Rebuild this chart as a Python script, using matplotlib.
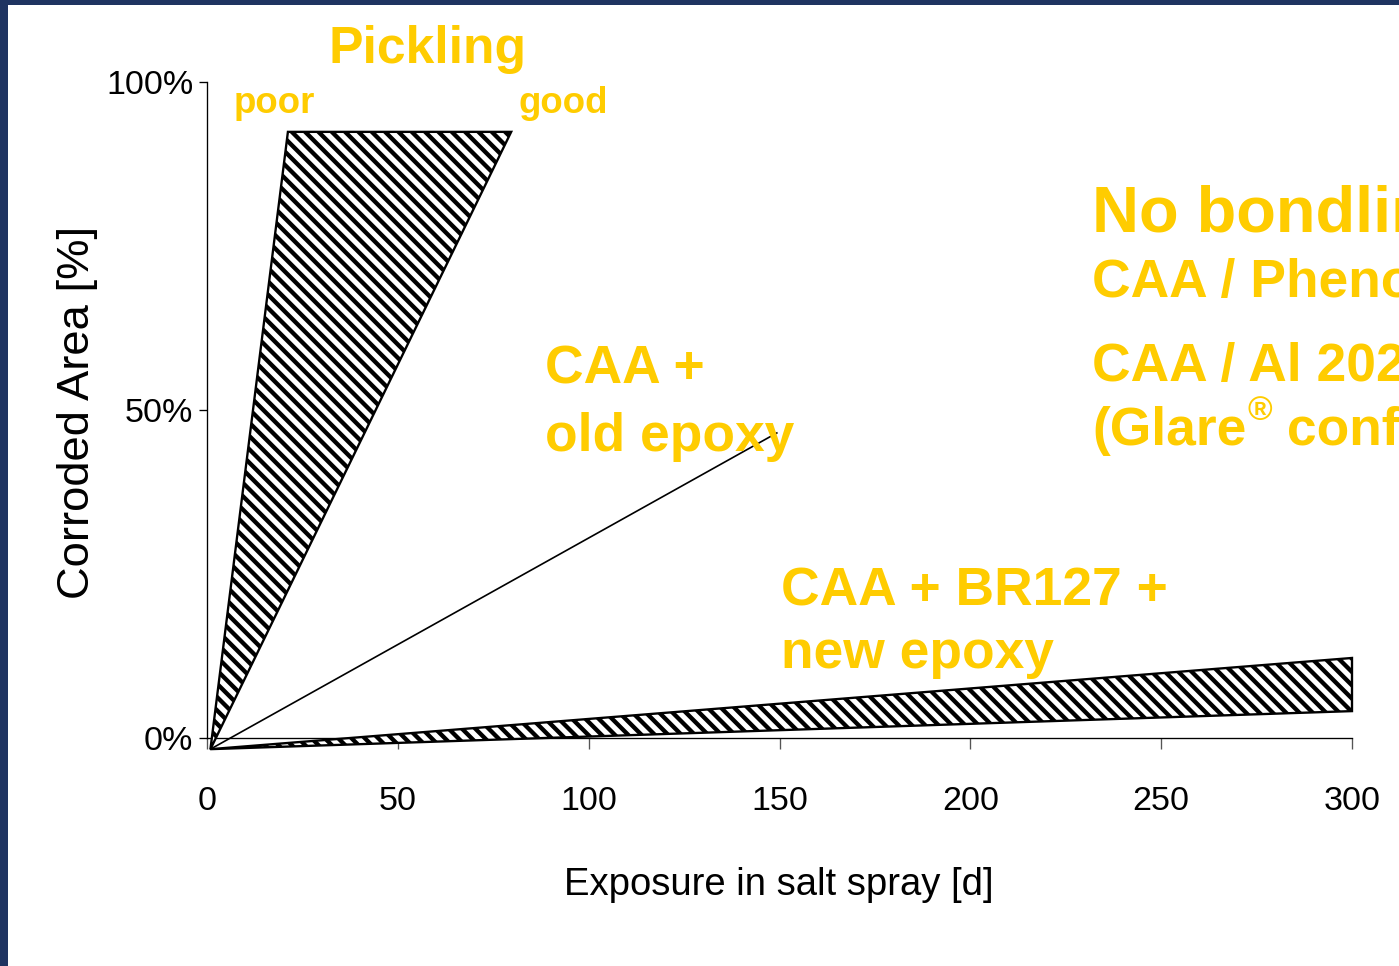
import matplotlib
matplotlib.use('Agg')
import matplotlib.pyplot as plt
from matplotlib import font_manager
from matplotlib.patches import Polygon, Rectangle

# exposure days / corroded area (%)
pickling_days = [0.9, 21.2, 79.7]
pickling_area = [-1.7, 92.4, 92.4]
old_epoxy_days = [0.9, 149.3]
old_epoxy_area = [-1.7, 46.5]
new_epoxy_days = [0.9, 300.0, 300.0]
new_epoxy_area = [-1.7, 12.2, 4.1]

x_ticks = [0, 50, 100, 150, 200, 250, 300]
y_ticks = [0, 50, 100]
y_ticklabels = ['0%', '50%', '100%']

W, H, DPI = 1399, 966, 120
YELLOW = '#FFCC00'
NAVY = '#1f3461'

names = {f.name for f in font_manager.fontManager.ttflist}
narrow = 'Liberation Sans Narrow' if 'Liberation Sans Narrow' in names else 'Liberation Sans'
bold = 'Liberation Sans'
# no condensed face here, so shrink the plain one a bit
shrink = 1.0 if narrow == 'Liberation Sans Narrow' else 0.85

plt.rcParams['hatch.linewidth'] = 2.6
plt.rcParams['font.family'] = [narrow, 'DejaVu Sans']

fig = plt.figure(figsize=(W / DPI, H / DPI), dpi=DPI, facecolor='white')

# slide frame
fig.patches.append(Rectangle((0, 1 - 5 / H), 1, 5 / H, transform=fig.transFigure,
                             facecolor=NAVY, edgecolor='none', zorder=0))
fig.patches.append(Rectangle((0, 0), 8 / W, 1, transform=fig.transFigure,
                             facecolor=NAVY, edgecolor='none', zorder=0))


def fxy(px, py):
    return px / W, 1 - py / H


ax = fig.add_axes([207 / W, (H - 738) / H, 1145 / W, 656 / H])
ax.set_xlim(0, 300)
ax.set_ylim(0, 100)
ax.patch.set_alpha(0)
for s in ['top', 'right']:
    ax.spines[s].set_visible(False)
ax.spines['left'].set_linewidth(0.8)
ax.spines['bottom'].set_linewidth(0.8)

ax.set_xticks(x_ticks)
ax.set_xticklabels([str(v) for v in x_ticks])
ax.set_yticks(y_ticks)
ax.set_yticklabels(y_ticklabels)
ax.tick_params(axis='x', direction='out', length=6.6, width=0.8, color='#555555',
               pad=22, labelsize=24 * shrink)
ax.tick_params(axis='y', direction='out', length=4.8, width=0.8, pad=3.5,
               labelsize=24 * shrink)

# three backslashes -> stripe spacing close to the slide's
ax.add_patch(Polygon(list(zip(pickling_days, pickling_area)), closed=True,
                     facecolor='white', edgecolor='black', hatch='\\\\\\',
                     linewidth=1.4, clip_on=False, zorder=3))
ax.add_patch(Polygon(list(zip(new_epoxy_days, new_epoxy_area)), closed=True,
                     facecolor='white', edgecolor='black', hatch='\\\\\\',
                     linewidth=1.4, clip_on=False, zorder=3))
ax.plot(old_epoxy_days, old_epoxy_area, color='black', lw=1.0, clip_on=False, zorder=3)

fig.text(*fxy(78, 412), 'Corroded Area [%]', rotation=90, ha='center', va='center',
         fontsize=32 * shrink, family=[narrow])
fig.text(*fxy(779, 885), 'Exposure in salt spray [d]', ha='center', va='center',
         fontsize=27 * shrink, family=[narrow])

tk = dict(color=YELLOW, fontweight='bold', family=[bold], va='baseline')
fig.text(*fxy(428, 63), 'Pickling', ha='center', fontsize=31, **tk)
fig.text(*fxy(234, 113), 'poor', ha='left', fontsize=22, **tk)
fig.text(*fxy(518, 113), 'good', ha='left', fontsize=22, **tk)

fig.text(*fxy(545, 384), 'CAA +', ha='left', fontsize=32, **tk)
fig.text(*fxy(545, 451), 'old epoxy', ha='left', fontsize=32, **tk)
fig.text(*fxy(781, 605), 'CAA + BR127 +', ha='left', fontsize=32, **tk)
fig.text(*fxy(781, 668), 'new epoxy', ha='left', fontsize=32, **tk)

# the slide crops this block at its right edge
fig.text(*fxy(1092, 231), 'No bondline corrosion', ha='left', fontsize=39, **tk)
fig.text(*fxy(1092, 297), 'CAA / Phenolic primer', ha='left', fontsize=32, **tk)
fig.text(*fxy(1092, 381), 'CAA / Al 2024', ha='left', fontsize=32, **tk)
t_glare = fig.text(*fxy(1092, 445), '(Glare', ha='left', fontsize=32, **tk)

fig.canvas.draw()
bb = t_glare.get_window_extent()
reg = fig.text(bb.x1 / W + 1 / W, fxy(0, 420)[1], '\u00ae', ha='left', fontsize=20, **tk)
fig.canvas.draw()
bb2 = reg.get_window_extent()
fig.text(bb2.x1 / W, fxy(0, 445)[1], ' configuration)', ha='left', fontsize=32, **tk)

fig.savefig('out.png', dpi=DPI, facecolor='white')
